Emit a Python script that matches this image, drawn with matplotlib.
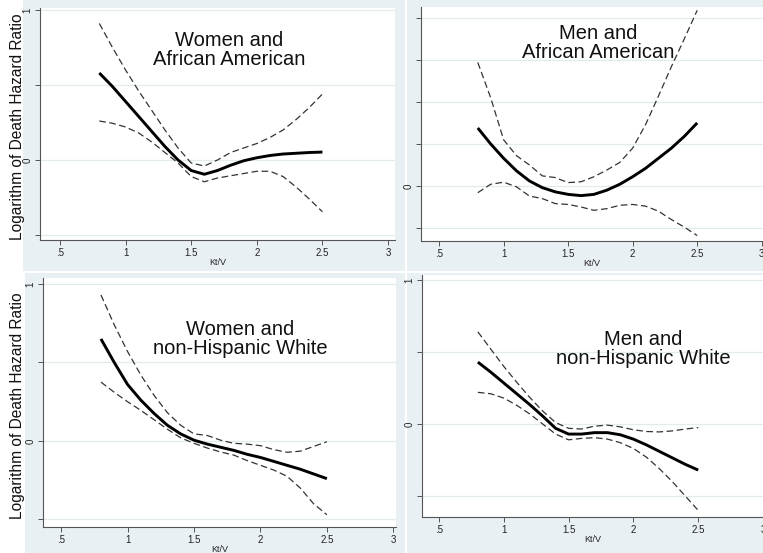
import matplotlib
matplotlib.use("Agg")
import matplotlib.pyplot as plt
from matplotlib.patches import Rectangle

plt.rcParams['font.family'] = ['Liberation Sans', 'DejaVu Sans']

# ---------------- data ----------------
kt_v = [0.8, 0.9, 1.0, 1.1, 1.2, 1.3, 1.4, 1.5, 1.6, 1.7, 1.8, 1.9, 2.0, 2.1, 2.2, 2.3, 2.4, 2.5]

titles = ["Women and\nAfrican American", "Men and\nAfrican American",
          "Women and\nnon-Hispanic White", "Men and\nnon-Hispanic White"]

# Women, African American
wa_est = [0.58, 0.49, 0.39, 0.29, 0.19, 0.09, 0.0, -0.07, -0.095, -0.07, -0.035, -0.005, 0.015, 0.03, 0.04, 0.045, 0.05, 0.053]
wa_hi = [0.91, 0.75, 0.60, 0.46, 0.33, 0.20, 0.08, -0.02, -0.04, 0.0, 0.05, 0.08, 0.11, 0.15, 0.20, 0.27, 0.35, 0.44]
wa_lo = [0.26, 0.245, 0.22, 0.18, 0.12, 0.05, -0.02, -0.11, -0.145, -0.12, -0.105, -0.09, -0.075, -0.075, -0.11, -0.18, -0.26, -0.345]

# Men, African American
ma_est = [0.69, 0.50, 0.33, 0.18, 0.06, -0.02, -0.07, -0.10, -0.115, -0.10, -0.05, 0.02, 0.11, 0.21, 0.33, 0.45, 0.59, 0.75]
ma_hi = [1.47, 1.05, 0.55, 0.36, 0.25, 0.12, 0.10, 0.04, 0.05, 0.11, 0.19, 0.28, 0.45, 0.73, 1.07, 1.42, 1.75, 2.09]
ma_lo = [-0.08, 0.02, 0.045, -0.01, -0.12, -0.15, -0.21, -0.22, -0.25, -0.29, -0.27, -0.23, -0.22, -0.24, -0.30, -0.40, -0.49, -0.59]

# Women, non-Hispanic White
ww_est = [0.65, 0.50, 0.36, 0.26, 0.175, 0.10, 0.045, 0.005, -0.02, -0.04, -0.06, -0.085, -0.105, -0.13, -0.155, -0.18, -0.21, -0.24]
ww_hi = [0.93, 0.74, 0.57, 0.42, 0.29, 0.18, 0.10, 0.045, 0.035, 0.005, -0.015, -0.02, -0.03, -0.055, -0.072, -0.065, -0.035, -0.005]
ww_lo = [0.375, 0.31, 0.25, 0.195, 0.135, 0.075, 0.02, -0.015, -0.045, -0.07, -0.09, -0.125, -0.155, -0.185, -0.225, -0.30, -0.40, -0.47]

# Men, non-Hispanic White
mw_est = [0.43, 0.36, 0.285, 0.21, 0.135, 0.055, -0.03, -0.07, -0.07, -0.06, -0.06, -0.075, -0.105, -0.145, -0.19, -0.235, -0.28, -0.32]
mw_hi = [0.64, 0.52, 0.40, 0.29, 0.185, 0.09, 0.01, -0.03, -0.035, -0.015, -0.008, -0.02, -0.04, -0.052, -0.055, -0.048, -0.035, -0.025]
mw_lo = [0.22, 0.21, 0.18, 0.13, 0.07, 0.0, -0.07, -0.11, -0.10, -0.095, -0.105, -0.13, -0.17, -0.23, -0.31, -0.40, -0.50, -0.60]

x_ticks = [0.5, 1, 1.5, 2, 2.5, 3]
x_tick_labels = [".5", "1", "1.5", "2", "2.5", "3"]
y_ticks_std = [-0.5, 0, 0.5, 1]
y_labels_std = ["", "0", "", "1"]
y_ticks_ma = [-0.5, 0, 0.5, 1, 1.5, 2]
y_labels_ma = ["", "0", "", "", "", ""]

# ---------------- layout ----------------
W, H = 763, 553
fig = plt.figure(figsize=(W / 100, H / 100), dpi=100)
fig.patch.set_facecolor("white")

BG = "#e9f0f3"
GRID = "#e2ebee"
AXC = "#555555"

def fx(px):
    return px / W

def fy(py):
    return 1 - py / H

# panel backgrounds (px: x0, y0, x1, y1)
for (x0, y0, x1, y1) in [(23, 0, 405, 271), (407, 0, 763, 271),
                         (25, 273, 405, 553), (407, 273, 763, 553)]:
    fig.patches.append(Rectangle((fx(x0), fy(y1)), fx(x1) - fx(x0), fy(y0) - fy(y1),
                                 transform=fig.transFigure, facecolor=BG,
                                 edgecolor="none", zorder=-5))

panels = [
    dict(box=(40, 8, 395, 240), xlim=(0.348, 3.053), ylim=(-0.533, 1.013),
         yt=y_ticks_std, yl=y_labels_std, est=wa_est, hi=wa_hi, lo=wa_lo,
         title_xy=(229, 50), title=titles[0]),
    dict(box=(421, 7, 763, 241), xlim=(0.36, 3.01), ylim=(-0.655, 2.13),
         yt=y_ticks_ma, yl=y_labels_ma, est=ma_est, hi=ma_hi, lo=ma_lo,
         title_xy=(598, 43), title=titles[1]),
    dict(box=(43, 278, 396, 527), xlim=(0.364, 3.02), ylim=(-0.548, 1.038),
         yt=y_ticks_std, yl=y_labels_std, est=ww_est, hi=ww_hi, lo=ww_lo,
         title_xy=(240, 339), title=titles[2]),
    dict(box=(422, 275, 763, 517), xlim=(0.369, 3.0), ylim=(-0.646, 1.035),
         yt=y_ticks_std, yl=y_labels_std, est=mw_est, hi=mw_hi, lo=mw_lo,
         title_xy=(643, 349), title=titles[3]),
]

for p in panels:
    x0, y0, x1, y1 = p["box"]
    ax = fig.add_axes([fx(x0), fy(y1), fx(x1) - fx(x0), fy(y0) - fy(y1)])
    ax.set_facecolor("white")
    ax.set_xlim(*p["xlim"])
    ax.set_ylim(*p["ylim"])
    for s in ["top", "right"]:
        ax.spines[s].set_visible(False)
    for s in ["left", "bottom"]:
        ax.spines[s].set_color(AXC)
        ax.spines[s].set_linewidth(0.8)
    ax.set_xticks(x_ticks)
    ax.set_xticklabels(x_tick_labels, fontsize=7, color="#222222")
    ax.set_yticks(p["yt"])
    ax.set_yticklabels(p["yl"], fontsize=7, color="#222222", rotation=90,
                       va="center")
    ax.tick_params(axis="both", direction="out", length=3.5, width=0.7,
                   color=AXC, pad=2)
    ax.yaxis.grid(True, color=GRID, linewidth=0.9)
    ax.set_axisbelow(True)
    ax.set_xlabel("Kt/V", fontsize=6.5, labelpad=0, color="#222222")

    ax.plot(kt_v, p["hi"], color="#333333", linewidth=0.9, dashes=(5.3, 2.8))
    ax.plot(kt_v, p["lo"], color="#333333", linewidth=0.9, dashes=(5.3, 2.8))
    ax.plot(kt_v, p["est"], color="black", linewidth=2.1,
            solid_capstyle="butt")

    tx, ty = p["title_xy"]
    fig.text(fx(tx), fy(ty), p["title"], ha="center", va="center",
             fontsize=14.5, color="#111111", linespacing=1.05)

for cy in (127, 406):
    fig.text(fx(18), fy(cy), "Logarithm of Death Hazard Ratio", rotation=90,
             ha="center", va="center", fontsize=11.2, color="#111111")

fig.savefig("out.png", dpi=100)
